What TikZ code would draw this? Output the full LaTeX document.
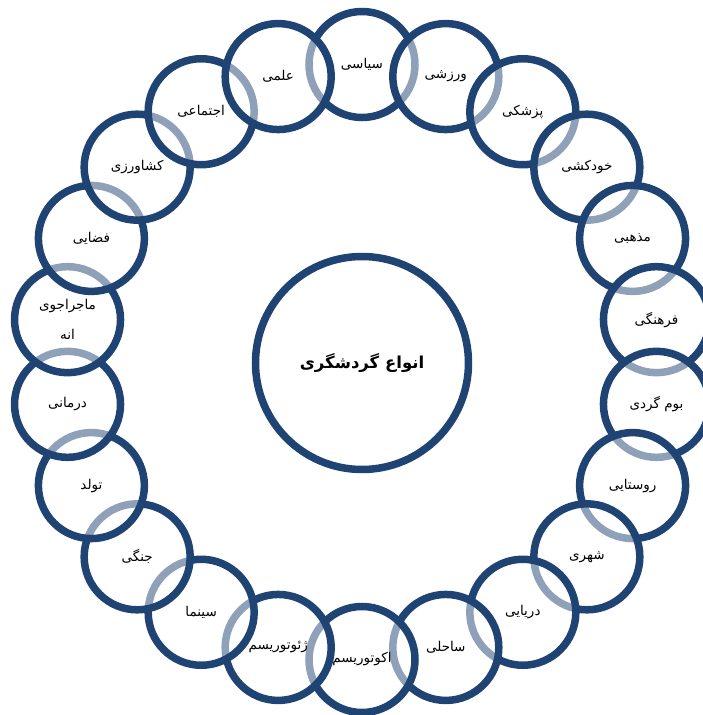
\documentclass[tikz,border=0pt]{standalone}
\usepackage{fontspec}
\newfontfamily\arabicfont[Script=Arabic]{DejaVu Sans}
\TeXXeTstate=1
\newcommand{\fa}[1]{\beginR #1\endR}
\definecolor{ringblue}{RGB}{31,68,116}
\begin{document}
\begin{tikzpicture}[x=1pt,y=1pt,
  item/.style={circle,draw=ringblue,line width=7.5pt,fill=white,fill opacity=0.5,
    text opacity=1,draw opacity=1,minimum size=106pt,inner sep=0pt,align=center,
    font=\arabicfont\fontsize{13.5}{30}\selectfont},
  hub/.style={circle,draw=ringblue,line width=7.5pt,fill=white,minimum size=213pt,
    inner sep=0pt,font=\arabicfont\bfseries\fontsize{16.5}{18}\selectfont}]
\useasboundingbox (-362,-353) rectangle (341,362);
\clip (-362,-353) rectangle (341,362);
\node[hub] (hub) at (0,-1) {\fa{انواع گردشگری}};
\foreach \t [count=\i from 0] in {
  {\fa{سیاسی}},{\fa{ورزشی}},{\fa{پزشکی}},{\fa{خودکشی}},{\fa{مذهبی}},
  {\fa{فرهنگی}},{\fa{بوم گردی}},{\fa{روستایی}},{\fa{شهری}},{\fa{دریایی}},
  {\fa{ساحلی}},{\fa{اکوتوریسم}},{\fa{ژئوتوریسم}},{\fa{سینما}},{\fa{جنگی}},
  {\fa{تولد}},{\fa{درمانی}},{\fa{ماجراجوی}\\\fa{انه}},{\fa{فضایی}},
  {\fa{کشاورزی}},{\fa{اجتماعی}},{\fa{علمی}}}
{
  \node[item] (c\i) at ({90-\i*360/22}:297.5) {\t};
}
\end{tikzpicture}
\end{document}
